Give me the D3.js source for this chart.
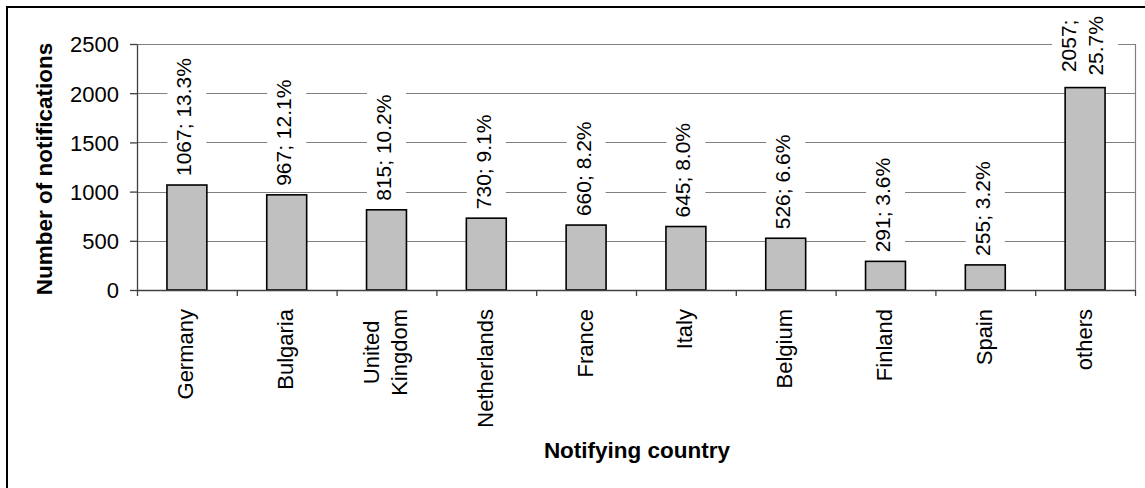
<!DOCTYPE html>
<html>
<head>
<meta charset="utf-8">
<script src="https://cdn.jsdelivr.net/npm/d3@7"></script>
<style>
  html, body { margin: 0; padding: 0; background: #fff; }
  svg { display: block; font-family: "Liberation Sans", Arial, sans-serif; }
</style>
</head>
<body>
<svg id="chart" width="1145" height="488"></svg>
<script>
const categories = ["Germany", "Bulgaria", "United Kingdom", "Netherlands", "France", "Italy", "Belgium", "Finland", "Spain", "others"];
const values = [1067, 967, 815, 730, 660, 645, 526, 291, 255, 2057];
const shares = ["13.3%", "12.1%", "10.2%", "9.1%", "8.2%", "8.0%", "6.6%", "3.6%", "3.2%", "25.7%"];
const yTicks = [0, 500, 1000, 1500, 2000, 2500];
const yTitle = "Number of notifications";
const xTitle = "Notifying country";

const svg = d3.select("#chart");
const W = 1145, H = 488;
const plot = { left: 137, right: 1135, top: 44, bottom: 290 };

// outer chart border (cut off at right/bottom like the reference)
svg.append("rect").attr("x", 7).attr("y", 7).attr("width", W).attr("height", H)
  .attr("fill", "#fff").attr("stroke", "#000").attr("stroke-width", 2);

const x = d3.scaleBand().domain(d3.range(categories.length))
  .range([plot.left, plot.right]).paddingInner(0.6).paddingOuter(0.3);
const xEdge = d3.scaleLinear().domain([0, categories.length]).range([plot.left, plot.right]);
const y = d3.scaleLinear().domain([0, 2500]).range([plot.bottom, plot.top]);

// gridlines
svg.append("g").selectAll("line").data(yTicks.filter(d => d > 0)).join("line")
  .attr("x1", plot.left).attr("x2", plot.right)
  .attr("y1", d => Math.round(y(d)) + 0.5).attr("y2", d => Math.round(y(d)) + 0.5)
  .attr("stroke", "#808080").attr("stroke-width", 1.2);
// plot area right border
svg.append("line").attr("x1", plot.right + 0.5).attr("x2", plot.right + 0.5)
  .attr("y1", plot.top).attr("y2", plot.bottom)
  .attr("stroke", "#808080").attr("stroke-width", 1.2);

// bars
svg.append("g").selectAll("rect").data(values).join("rect")
  .attr("x", (d, i) => x(i)).attr("width", x.bandwidth())
  .attr("y", d => y(d)).attr("height", d => y(0) - y(d))
  .attr("fill", "#c0c0c0").attr("stroke", "#000").attr("stroke-width", 1.6);

// y axis
const yAxis = svg.append("g").attr("transform", `translate(${plot.left},0)`)
  .call(d3.axisLeft(y).tickValues(yTicks).tickFormat(d3.format("d")).tickSize(7).tickPadding(11).tickSizeOuter(0));
yAxis.select(".domain").attr("stroke", "#404040").attr("stroke-width", 1.3);
yAxis.selectAll(".tick line").attr("stroke", "#404040").attr("stroke-width", 1.3);
yAxis.selectAll(".tick text").attr("font-size", 22).attr("fill", "#000")
  .attr("font-family", "Liberation Sans, Arial, sans-serif").attr("dy", "0.36em");

// x axis (ticks between categories)
const xAxis = svg.append("g").attr("transform", `translate(0,${plot.bottom})`)
  .call(d3.axisBottom(xEdge).tickValues(d3.range(categories.length + 1)).tickSize(6).tickFormat("").tickSizeOuter(0));
xAxis.select(".domain").attr("stroke", "#404040").attr("stroke-width", 1.3);
xAxis.selectAll(".tick line").attr("stroke", "#404040").attr("stroke-width", 1.3);

// category labels (rotated)
const catFs = 22, catLh = 28;
categories.forEach((c, i) => {
  const lines = c.includes(" ") && c.length > 12 ? c.split(" ") : [c];
  const cx = x(i) + x.bandwidth() / 2;
  const g = svg.append("g").attr("transform", `translate(${cx},309) rotate(-90)`);
  const texts = lines.map((l, k) => g.append("text").text(l)
    .attr("font-size", catFs).attr("fill", "#000").attr("text-anchor", "end")
    .attr("y", (k - (lines.length - 1) / 2) * catLh + 0.36 * catFs - 1.5));
  const lens = texts.map(t => t.node().getComputedTextLength());
  const maxL = d3.max(lens);
  texts.forEach((t, k) => t.attr("x", -(maxL - lens[k]) / 2));
});

// data labels (rotated, white background)
const lblFs = 21, lblLh = 27;
values.forEach((v, i) => {
  const full = `${v}; ${shares[i]}`;
  const cx = x(i) + x.bandwidth() / 2;
  const base = y(v) - 9;
  const g = svg.append("g").attr("transform", `translate(${cx},${base}) rotate(-90)`);
  const bg = g.append("rect").attr("fill", "#fff");
  // measure single-line length; wrap if it does not fit above the bar
  const probe = g.append("text").attr("font-size", lblFs).text(full);
  const fullLen = probe.node().getComputedTextLength();
  probe.remove();
  const lines = (fullLen > base - 12) ? [`${v};`, shares[i]] : [full];
  const texts = lines.map((l, k) => g.append("text").text(l)
    .attr("font-size", lblFs).attr("fill", "#000").attr("text-anchor", "start")
    .attr("y", (k - (lines.length - 1) / 2) * lblLh + 0.36 * lblFs - 3));
  const lens = texts.map(t => t.node().getComputedTextLength());
  const maxL = d3.max(lens);
  texts.forEach((t, k) => t.attr("x", lines.length > 1 ? (maxL - lens[k]) / 2 + 3 : 0));
  const bw = lines.length * lblLh + 12;
  bg.attr("x", -6).attr("width", maxL + 12)
    .attr("y", -bw / 2).attr("height", bw);
});

// axis titles
svg.append("text").attr("transform", `translate(52,169) rotate(-90)`)
  .attr("text-anchor", "middle").attr("font-size", 22.5).attr("font-weight", "bold")
  .attr("fill", "#000").text(yTitle);
svg.append("text").attr("x", (plot.left + plot.right) / 2 + 1).attr("y", 458)
  .attr("text-anchor", "middle").attr("font-size", 22.5).attr("font-weight", "bold")
  .attr("fill", "#000").text(xTitle);
</script>
</body>
</html>
